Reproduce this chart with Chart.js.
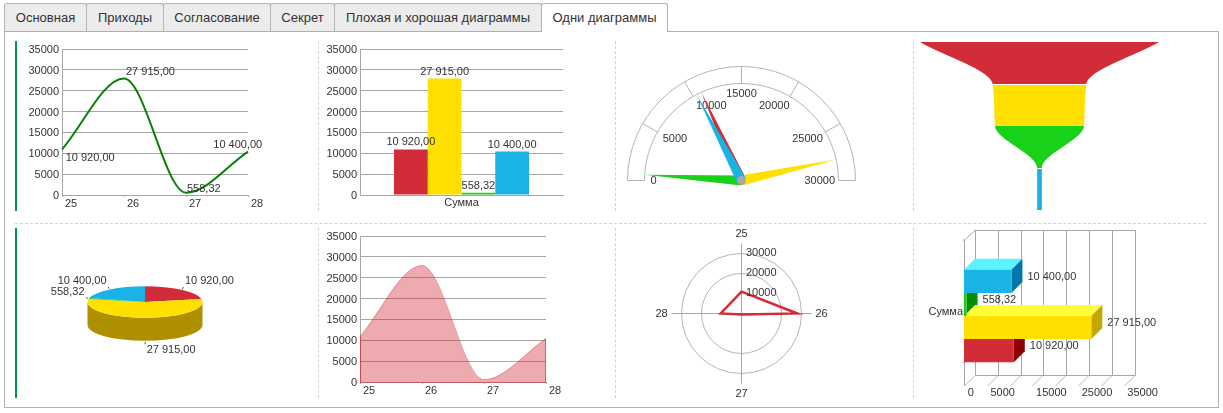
<!DOCTYPE html>
<html>
<head>
<meta charset="utf-8">
<title>Одни диаграммы</title>
<script src="https://cdn.jsdelivr.net/npm/chart.js@4/dist/chart.umd.min.js"></script>
<style>
  html, body { margin: 0; padding: 0; width: 1223px; height: 413px; overflow: hidden; background: #fff; }
  body { position: relative; font: 13px "Liberation Sans", Arial, sans-serif; color: #333; }
  canvas { position: absolute; }
  .tab { position: absolute; top: 3px; height: 28px; line-height: 27px; text-align: center; box-sizing: border-box;
         background: #ececec; border: 1px solid #b4b4b4; border-bottom: none; border-radius: 3px 3px 0 0; }
  .tab.active { background: #fff; height: 29px; z-index: 2; }
  #frame { position: absolute; left: 4px; top: 31px; width: 1215px; height: 377px; box-sizing: border-box; border: 1px solid #b0b0b0; }
  .greenbar { position: absolute; left: 15px; width: 2px; background: #009650; }
  .vdash { position: absolute; width: 0; border-left: 1px dashed #d2d2d2; }
  .hdash { position: absolute; height: 0; border-top: 1px dashed #d2d2d2; }
</style>
</head>
<body>
<div id="frame"></div>
<div class="greenbar" style="top:41px;height:170px"></div>
<div class="greenbar" style="top:228px;height:170px"></div>
<div class="vdash" style="left:318px;top:41px;height:170px"></div>
<div class="vdash" style="left:615px;top:41px;height:170px"></div>
<div class="vdash" style="left:913px;top:41px;height:170px"></div>
<div class="hdash" style="left:15px;top:223px;width:1191px"></div>
<div class="vdash" style="left:318px;top:228px;height:170px"></div>
<div class="vdash" style="left:615px;top:228px;height:170px"></div>
<div class="vdash" style="left:913px;top:228px;height:170px"></div>

<script>
// report data
const periods = ['25', '26', '27', '28'];
const sums = [10920, 27915, 558.32, 10400];
const sumLabel = ['Сумма'];
const sliceColors = ['#d12c38', '#ffe000', '#1ad11a', '#1ab3e6'];
const pieSideColors = ['#8e1e26', '#ad8f00', '#128f12', '#1279a0'];
const barTopColors = ['#e0505a', '#ffff39', '#30e030', '#5af4ff'];
const barSideColors = ['#8f0000', '#c4a600', '#009000', '#0077ab'];
const gaugeTickStep = 5000;
const gaugeMax = 30000;
const radarTicks = [10000, 20000, 30000];
const barAxisLabels = [0, 5000, 15000, 25000, 35000];
const tabNames = ['Основная', 'Приходы', 'Согласование', 'Секрет', 'Плохая и хорошая диаграммы', 'Одни диаграммы'];
const tabEdges = [4, 86, 163, 270, 334, 541, 667];

tabNames.forEach((name, i) => {
  const tab = document.createElement('div');
  tab.className = i === tabNames.length - 1 ? 'tab active' : 'tab';
  tab.style.left = tabEdges[i] + 'px';
  tab.style.width = (tabEdges[i + 1] - tabEdges[i] + 1) + 'px';
  tab.textContent = name;
  document.body.appendChild(tab);
});

const GRID = '#a6a6a6';
const TEXT = '#333';
const FONT = '11px "Liberation Sans", Arial, sans-serif';

Chart.defaults.font.family = '"Liberation Sans", Arial, sans-serif';
Chart.defaults.font.size = 11;
Chart.defaults.color = TEXT;
Chart.defaults.animation = false;
Chart.defaults.responsive = false;
Chart.defaults.events = [];
Chart.defaults.plugins.legend.display = false;
Chart.defaults.plugins.tooltip.enabled = false;

function addCanvas(left, top, width, height) {
  const c = document.createElement('canvas');
  c.width = width;
  c.height = height;
  c.style.left = left + 'px';
  c.style.top = top + 'px';
  c.style.width = width + 'px';
  c.style.height = height + 'px';
  document.body.appendChild(c);
  return c;
}

// "27915" -> "27 915,00"
function money(v) {
  const [whole, frac] = v.toFixed(2).split('.');
  return whole.replace(/\B(?=(\d{3})+$)/g, ' ') + ',' + frac;
}

function text(ctx, str, x, y, align) {
  ctx.save();
  ctx.font = FONT;
  ctx.fillStyle = TEXT;
  ctx.textAlign = align || 'left';
  ctx.textBaseline = 'middle';
  ctx.fillText(str, x, y + 1);
  ctx.restore();
}

function seg(ctx, x0, y0, x1, y1, color) {
  ctx.strokeStyle = color;
  ctx.lineWidth = 1;
  ctx.beginPath();
  ctx.moveTo(x0, y0);
  ctx.lineTo(x1, y1);
  ctx.stroke();
}

function valueAxis(labelWidth) {
  return {
    min: 0,
    max: 35000,
    ticks: { stepSize: 5000, padding: 3, labelOffset: 1, callback: v => String(v) },
    grid: { color: GRID, drawTicks: false },
    border: { color: GRID },
    afterFit: s => { s.width = labelWidth; }
  };
}

function periodAxis() {
  return {
    ticks: { align: 'start', labelOffset: 3, padding: 0, maxRotation: 0, autoSkip: false },
    grid: { color: GRID, drawOnChartArea: false, tickLength: 2 },
    border: { color: GRID },
    afterFit: s => { s.height = 23; }
  };
}

// --- spline line
const lineLabelOffsets = [[3.7, 8], [2, -8], [1, -5], [-34.7, -8]];
new Chart(addCanvas(18, 38, 280, 180), {
  type: 'line',
  data: {
    labels: periods,
    datasets: [{ data: sums, borderColor: '#078007', borderWidth: 2, pointRadius: 0, cubicInterpolationMode: 'monotone', fill: false }]
  },
  options: {
    layout: { padding: { top: 11, right: 50 } },
    scales: { x: periodAxis(), y: valueAxis(44) }
  },
  plugins: [{
    id: 'lineLabels',
    afterDatasetsDraw(chart) {
      chart.getDatasetMeta(0).data.forEach((pt, i) => {
        text(chart.ctx, money(sums[i]), pt.x + lineLabelOffsets[i][0], pt.y + lineLabelOffsets[i][1]);
      });
    }
  }]
});

// --- grouped columns
new Chart(addCanvas(316, 38, 280, 180), {
  type: 'bar',
  data: {
    labels: sumLabel,
    datasets: sums.map((v, i) => ({ data: [v], backgroundColor: sliceColors[i], categoryPercentage: 0.665, barPercentage: 1 }))
  },
  options: {
    layout: { padding: { top: 11, right: 33 } },
    scales: {
      x: {
        ticks: { padding: 1 },
        grid: { display: false, drawTicks: false },
        border: { color: GRID },
        afterFit: s => { s.height = 23; }
      },
      y: valueAxis(44)
    }
  },
  plugins: [{
    id: 'barLabels',
    afterDatasetsDraw(chart) {
      sums.forEach((v, i) => {
        const bar = chart.getDatasetMeta(i).data[0];
        text(chart.ctx, money(v), bar.x, bar.y - 8, 'center');
      });
    }
  }]
});

// --- half-circle gauge: x scale maps a value onto the sweep
const GAUGE_INNER = 97;
new Chart(addCanvas(620, 55, 240, 140), {
  type: 'scatter',
  data: {
    datasets: sums.map(v => ({ data: [{ x: v, y: 0 }], pointRadius: 0 }))
  },
  options: {
    layout: { padding: { left: 7.5, right: 4.5, top: 11, bottom: 14.5 } },
    scales: {
      x: { display: false, min: 0, max: gaugeMax, ticks: { stepSize: gaugeTickStep, autoSkip: false } },
      y: { display: false, min: 0, max: 1 }
    }
  },
  plugins: [{
    id: 'gauge',
    afterDatasetsDraw(chart) {
      const { ctx, chartArea: a } = chart;
      const xs = chart.scales.x;
      const cx = (a.left + a.right) / 2;
      const cy = a.bottom;
      const outer = a.width / 2;
      const angle = v => Math.PI * (1 + (xs.getPixelForValue(v) - a.left) / a.width);

      ctx.save();
      ctx.strokeStyle = '#b4b4b4';
      ctx.lineWidth = 1;
      [outer, GAUGE_INNER].forEach(r => {
        ctx.beginPath();
        ctx.arc(cx, cy, r, Math.PI, 2 * Math.PI);
        ctx.stroke();
      });
      xs.ticks.forEach(t => {
        const ang = angle(t.value);
        seg(ctx, cx + GAUGE_INNER * Math.cos(ang), cy + GAUGE_INNER * Math.sin(ang),
          cx + outer * Math.cos(ang), cy + outer * Math.sin(ang), '#b4b4b4');
        const edge = t.value === 0 || t.value === gaugeMax;
        let align = 'center';
        let nudge = 0;
        if (Math.cos(ang) < -0.1) align = 'left';
        if (Math.cos(ang) > 0.1) { align = 'right'; nudge = 2.5; }
        text(ctx, String(t.value), cx + 91 * Math.cos(ang) + nudge, cy + 91 * Math.sin(ang) + (edge ? -1 : 3), align);
      });

      // needles, blue ends up on top
      [0, 1, 2, 3].forEach(i => {
        const ang = angle(sums[i]);
        const nx = -Math.sin(ang) * 5;
        const ny = Math.cos(ang) * 5;
        ctx.fillStyle = sliceColors[i];
        ctx.beginPath();
        ctx.moveTo(cx + GAUGE_INNER * Math.cos(ang), cy + GAUGE_INNER * Math.sin(ang));
        ctx.lineTo(cx + nx, cy + ny);
        ctx.lineTo(cx - nx, cy - ny);
        ctx.closePath();
        ctx.fill();
      });
      ctx.fillStyle = '#a8a8a8';
      ctx.beginPath();
      ctx.arc(cx, cy, 4.5, 0, 2 * Math.PI);
      ctx.fill();
      ctx.restore();
    }
  }]
});

// --- funnel: widest value on top, sorted downward, last edge repeated
const funnelEdges = [...sums].sort((a, b) => b - a);
funnelEdges.push(funnelEdges[funnelEdges.length - 1]);
const funnelRows = funnelEdges.map((_, i) => String(i));
new Chart(addCanvas(915, 37, 250, 178), {
  type: 'line',
  data: {
    labels: funnelRows,
    datasets: [
      {
        data: funnelEdges.map(v => -v / 2),
        fill: '+1',
        borderWidth: 0,
        pointRadius: 0,
        cubicInterpolationMode: 'monotone',
        segment: { backgroundColor: c => sliceColors[c.p0DataIndex] }
      },
      {
        data: funnelEdges.map(v => v / 2),
        fill: false,
        borderWidth: 0,
        pointRadius: 0,
        cubicInterpolationMode: 'monotone'
      }
    ]
  },
  options: {
    indexAxis: 'y',
    layout: { padding: { left: 5, right: 6, top: 5, bottom: 5 } },
    scales: {
      x: { type: 'linear', display: false, min: -funnelEdges[0] / 2, max: funnelEdges[0] / 2 },
      y: { type: 'category', display: false }
    }
  },
  plugins: [{
    id: 'funnelGaps',
    afterDatasetsDraw(chart) {
      const { ctx, chartArea: a, scales } = chart;
      [1, 3].forEach(i => {
        const y = Math.round(scales.y.getPixelForTick(i)) + 0.5;
        seg(ctx, a.left, y, a.right, y, '#fff');
      });
    }
  }]
});

// --- squashed pie with a wall under the front half
const PIE_SQUASH = 0.275;
const PIE_WALL = 23;
new Chart(addCanvas(20, 222, 250, 160), {
  type: 'pie',
  data: {
    labels: periods,
    datasets: [{ data: sums, backgroundColor: sliceColors, borderWidth: 0, radius: 57.5 }]
  },
  plugins: [{
    id: 'pie3d',
    beforeDatasetsDraw(chart) {
      const { ctx } = chart;
      const arcs = chart.getDatasetMeta(0).data;
      const { x: cx, y: cy, outerRadius: r } = arcs[0];
      const ry = r * PIE_SQUASH;
      arcs.forEach((arc, i) => {
        const norm = a => a < -Math.PI / 2 ? a + 2 * Math.PI : a;
        const a0 = Math.max(norm(arc.startAngle), 0);
        const a1 = Math.min(norm(arc.endAngle), Math.PI);
        if (a1 <= a0) return;
        ctx.fillStyle = pieSideColors[i];
        ctx.beginPath();
        ctx.ellipse(cx, cy, r, ry, 0, a0, a1);
        ctx.ellipse(cx, cy + PIE_WALL, r, ry, 0, a1, a0, true);
        ctx.closePath();
        ctx.fill();
      });
      ctx.save();
      ctx.translate(cx, cy);
      ctx.scale(1, PIE_SQUASH);
      ctx.translate(-cx, -cy);
    },
    afterDatasetsDraw(chart) {
      const { ctx } = chart;
      ctx.restore();
      chart.getDatasetMeta(0).data.forEach((arc, i) => {
        const mid = (arc.startAngle + arc.endAngle) / 2;
        const c = Math.cos(mid);
        const s = Math.sin(mid);
        const px = arc.x + arc.outerRadius * c;
        const py = arc.y + arc.outerRadius * PIE_SQUASH * s + (s > 0 ? PIE_WALL : 0);
        const ex = px + 3 * c;
        const ey = py + 3.5 * s;
        seg(ctx, px + c, py + s, ex, ey, '#555');
        text(ctx, money(sums[i]), ex + (c > -0.01 ? 1.5 : -1.5), ey + (s > 0 ? 5 : -7), c > -0.01 ? 'left' : 'right');
      });
    }
  }]
});

// --- filled spline
new Chart(addCanvas(316, 225, 280, 180), {
  type: 'line',
  data: {
    labels: periods,
    datasets: [{
      data: sums,
      borderColor: 'rgba(209,44,56,0.4)',
      backgroundColor: 'rgba(209,44,56,0.4)',
      borderWidth: 1,
      pointRadius: 0,
      cubicInterpolationMode: 'monotone',
      fill: 'origin'
    }]
  },
  options: {
    layout: { padding: { top: 11, right: 50 } },
    scales: { x: periodAxis(), y: valueAxis(44) }
  },
  plugins: [{
    id: 'areaEdges',
    afterDatasetsDraw(chart) {
      const { ctx, scales } = chart;
      const pts = chart.getDatasetMeta(0).data;
      const base = Math.round(scales.y.getPixelForValue(0)) + 0.5;
      const first = pts[0];
      const last = pts[pts.length - 1];
      const edge = 'rgba(209,44,56,0.6)';
      seg(ctx, first.x + 0.5, first.y, first.x + 0.5, base, edge);
      seg(ctx, first.x, base, last.x, base, edge);
      seg(ctx, last.x - 0.5, last.y, last.x - 0.5, base, edge);
    }
  }]
});

// --- radar
new Chart(addCanvas(571, 223, 340, 180), {
  type: 'radar',
  data: {
    labels: periods,
    datasets: [{ data: sums, borderColor: sliceColors[0], borderWidth: 2.5, pointRadius: 0, fill: false }]
  },
  options: {
    layout: { padding: { top: 20, bottom: 20 } },
    scales: {
      r: {
        min: 0,
        max: 35000,
        ticks: { display: false, stepSize: 10000 },
        pointLabels: { display: false },
        grid: { circular: true, color: '#b4b4b4' },
        angleLines: { color: GRID },
        afterBuildTicks: s => { s.ticks = radarTicks.map(value => ({ value })); }
      }
    }
  },
  plugins: [{
    id: 'radarLabels',
    beforeDraw(chart) {
      chart.ctx.save();
      chart.ctx.translate(0.5, 0.5);
    },
    afterDraw(chart) {
      const { ctx, scales: { r } } = chart;
      periods.forEach((p, i) => {
        const pos = r.getPointPosition(i, 80);
        text(ctx, p, pos.x, pos.y - 1, 'center');
      });
      radarTicks.forEach(v => {
        text(ctx, String(v), r.xCenter + 4.5, r.yCenter - r.getDistanceFromCenterForValue(v) - 2);
      });
      ctx.restore();
    }
  }]
});

// --- horizontal bars with an extruded box look
const DEPTH = 11;
new Chart(addCanvas(915, 225, 290, 180), {
  type: 'bar',
  data: {
    labels: sumLabel,
    datasets: sums.map((v, i) => ({ data: [v], backgroundColor: sliceColors[i], categoryPercentage: 0.66, barPercentage: 1 })).reverse()
  },
  options: {
    indexAxis: 'y',
    layout: { padding: { top: 21, right: 81.4 } },
    scales: {
      x: {
        min: 0,
        max: 35000,
        ticks: {
          stepSize: 5000,
          align: 'start',
          labelOffset: 3.7,
          padding: 0,
          maxRotation: 0,
          autoSkip: false,
          callback: v => barAxisLabels.includes(v) ? String(v) : ''
        },
        grid: { display: false, drawTicks: false },
        border: { display: false },
        afterFit: s => { s.height = 19; }
      },
      y: {
        ticks: { padding: 1, labelOffset: -4 },
        grid: { display: false, drawTicks: false },
        border: { display: false },
        afterFit: s => { s.width = 49; }
      }
    }
  },
  plugins: [{
    id: 'box3d',
    beforeDatasetsDraw(chart) {
      const { ctx, chartArea: a, scales: { x } } = chart;
      const frontTop = a.top - 6;
      const front = Math.round(a.left) + 0.5;
      const wallTop = frontTop - 10;
      const wallBottom = a.bottom - DEPTH;

      // walls and floor
      x.ticks.forEach(t => {
        const px = Math.round(x.getPixelForValue(t.value) + DEPTH) + 0.5;
        seg(ctx, px, wallTop, px, wallBottom, GRID);
        seg(ctx, px - DEPTH, a.bottom, px, wallBottom, '#b8b8b8');
      });
      const wallRight = Math.round(x.right + DEPTH) + 0.5;
      seg(ctx, front + DEPTH, wallTop + 0.5, wallRight, wallTop + 0.5, GRID);
      seg(ctx, front + DEPTH, Math.round(wallBottom) + 0.5, wallRight, Math.round(wallBottom) + 0.5, GRID);
      seg(ctx, front, frontTop, front + DEPTH, wallTop, GRID);
      seg(ctx, front, frontTop, front, a.bottom, GRID);
      seg(ctx, front - 2, frontTop, front, frontTop, GRID);
      const lowest = chart.getDatasetMeta(sums.length - 1).data[0];
      const lowEdge = Math.round(lowest.y + lowest.height / 2) + 0.5;
      seg(ctx, front - 2, lowEdge, front, lowEdge, GRID);

      // box faces, lower bars overlap upper sides only where drawn later
      [0, 2, 1, 3].forEach(i => {
        const bar = chart.getDatasetMeta(sums.length - 1 - i).data[0];
        const top = bar.y - bar.height / 2;
        const bottom = bar.y + bar.height / 2;
        ctx.fillStyle = barTopColors[i];
        ctx.beginPath();
        ctx.moveTo(bar.base, top);
        ctx.lineTo(bar.x, top);
        ctx.lineTo(bar.x + DEPTH, top - DEPTH);
        ctx.lineTo(bar.base + DEPTH, top - DEPTH);
        ctx.closePath();
        ctx.fill();
        ctx.fillStyle = barSideColors[i];
        ctx.beginPath();
        ctx.moveTo(bar.x, top);
        ctx.lineTo(bar.x + DEPTH, top - DEPTH);
        ctx.lineTo(bar.x + DEPTH, bottom - DEPTH);
        ctx.lineTo(bar.x, bottom);
        ctx.closePath();
        ctx.fill();
      });
    },
    afterDatasetsDraw(chart) {
      sums.forEach((v, i) => {
        const bar = chart.getDatasetMeta(sums.length - 1 - i).data[0];
        text(chart.ctx, money(v), bar.x + DEPTH + 5, bar.y - DEPTH / 2);
      });
    }
  }]
});
</script>
</body>
</html>
